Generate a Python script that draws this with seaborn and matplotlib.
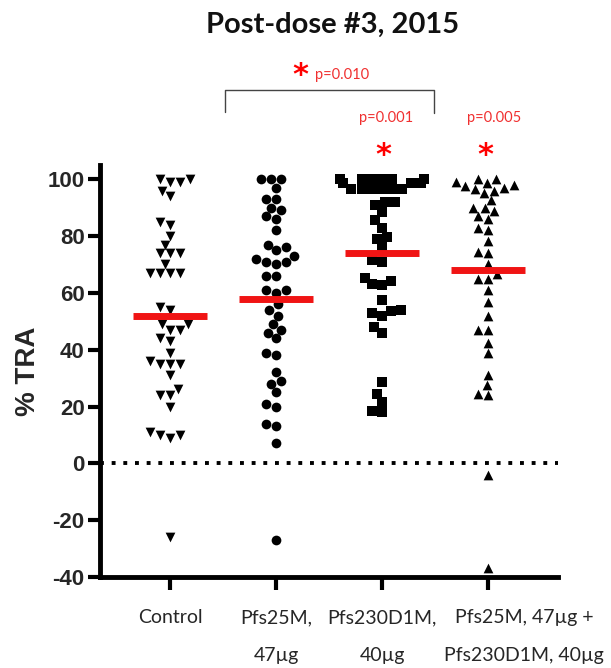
import numpy as np
import pandas as pd
import matplotlib
matplotlib.use("Agg")
import matplotlib.pyplot as plt
import seaborn as sns
from matplotlib.transforms import ScaledTranslation
from matplotlib.lines import Line2D

# ---------------- data ----------------
categories = ["Control", "Pfs25M,\n47µg", "Pfs230D1M,\n40µg",
              "Pfs25M, 47µg +\nPfs230D1M, 40µg"]
control = [100, 99, 94, 96, 99, 100, 85, 84, 80, 74, 74, 74, 77, 67, 67, 67, 67, 70,
           55, 54, 49, 49, 47, 47, 44, 43, 39, 35, 35, 35, 36, 31, 24, 24, 26, 20,
           10, 10, 9, 11, -26]
pfs25 = [100, 100, 100, 97, 93, 93, 90, 89, 86, 87, 82, 77, 76, 75, 73, 72, 71, 70, 71,
         66, 66, 61, 60, 61, 56, 54, 52, 49, 46, 47, 44, 39, 38, 32, 28, 29, 25, 21, 20,
         14, 13, 7, -27]
pfs230 = [100, 100, 100, 100, 100, 100, 98.5, 98.5, 98.5, 96.5, 96.5, 96.5, 96.5, 96.5,
          96.5, 92, 92, 91, 88.5, 85.5, 83, 79.6, 79, 76, 71.6, 70.7, 65.4, 64, 63,
          62.6, 57.4, 54, 53.5, 53, 52, 48, 46, 28.6, 24.4, 21.5, 18.5, 18]
combo = [100, 100, 99, 98.5, 98, 97.5, 97, 96.5, 96,
         95, 92.6, 90, 88.7, 90, 87, 86, 83, 82, 78.4, 74.5, 74, 70, 66.5, 65, 65, 61,
         56.7, 52, 47, 47, 42.5, 39, 31, 27.4, 24.4, 24, -4, -37]
group_values = [control, pfs25, pfs230, combo]
means = [52, 58, 74, 68]
markers = ["v", "o", "s", "^"]
yticks = [-40, -20, 0, 20, 40, 60, 80, 100]
title = "Post-dose #3, 2015"
ylabel = "% TRA"

df = pd.DataFrame({
    "group": np.repeat(categories, [len(v) for v in group_values]),
    "value": np.concatenate(group_values),
})

# ---------------- style ----------------
sns.set_style("ticks")
plt.rcParams["font.family"] = ["Lato", "DejaVu Sans"]

W, H = 611, 668
fig = plt.figure(figsize=(W / 100, H / 100), dpi=100)
ax = fig.add_axes([100 / W, 1 - 577 / H, 458 / W, 412 / H])

for cat, mk in zip(categories, markers):
    sub = df[df["group"] == cat]
    sns.swarmplot(data=sub, x="group", y="value", order=categories, marker=mk,
                  color="black", size=7, linewidth=0, ax=ax, zorder=3)

# mean lines
xs = np.arange(len(categories))
ax.hlines(means, xs - 0.35, xs + 0.35, color="#f01414", lw=5, zorder=6)

# dotted zero line
ax.axhline(0, color="black", ls=(0, (1, 2)), lw=2.8, zorder=1)

ax.set_xlim(-0.66, 3.66)
ax.set_ylim(-40, 105)
ax.set_yticks(yticks)
ax.set_yticklabels([str(t) for t in yticks])
ax.set_xlabel("")
ax.set_ylabel(ylabel, fontsize=20, fontweight="bold", family="Liberation Sans",
              labelpad=5)

for s in ["top", "right"]:
    ax.spines[s].set_visible(False)
for s in ["left", "bottom"]:
    ax.spines[s].set_linewidth(3.5)
    ax.spines[s].set_color("black")

ax.tick_params(axis="both", width=3, length=9, direction="out", color="black")
ax.tick_params(axis="y", pad=2)
ax.tick_params(axis="x", pad=14)
for lab in ax.get_yticklabels():
    lab.set_fontfamily("Liberation Sans")
    lab.set_fontweight("bold")
    lab.set_fontsize(16)
for lab in ax.get_xticklabels():
    lab.set_fontsize(14)
    lab.set_linespacing(2.5)
last = ax.get_xticklabels()[-1]
last.set_transform(last.get_transform() + ScaledTranslation(0.36, 0, fig.dpi_scale_trans))

# ---------------- title & annotations ----------------
def fx(x):
    return x / W

def fy(y):
    return 1 - y / H

fig.text(fx(333), fy(25), title, ha="center", va="center", fontsize=21,
         fontweight="bold", color="#111111")

red = "#f03030"
fig.text(fx(300), fy(76), "*", ha="center", va="center", fontsize=22,
         fontweight="bold", color="red", family="DejaVu Sans")
fig.text(fx(315), fy(75), "p=0.010", ha="left", va="center", fontsize=10.5, color=red)
fig.add_artist(Line2D([fx(225), fx(225), fx(434), fx(434)],
                      [fy(112), fy(90), fy(90), fy(113)], color="#444444", lw=1))
fig.text(fx(386), fy(118), "p=0.001", ha="center", va="center", fontsize=10.5, color=red)
fig.text(fx(383), fy(156), "*", ha="center", va="center", fontsize=22,
         fontweight="bold", color="red", family="DejaVu Sans")
fig.text(fx(494), fy(118), "p=0.005", ha="center", va="center", fontsize=10.5, color=red)
fig.text(fx(485), fy(156), "*", ha="center", va="center", fontsize=22,
         fontweight="bold", color="red", family="DejaVu Sans")

fig.savefig("out.png", dpi=100)
